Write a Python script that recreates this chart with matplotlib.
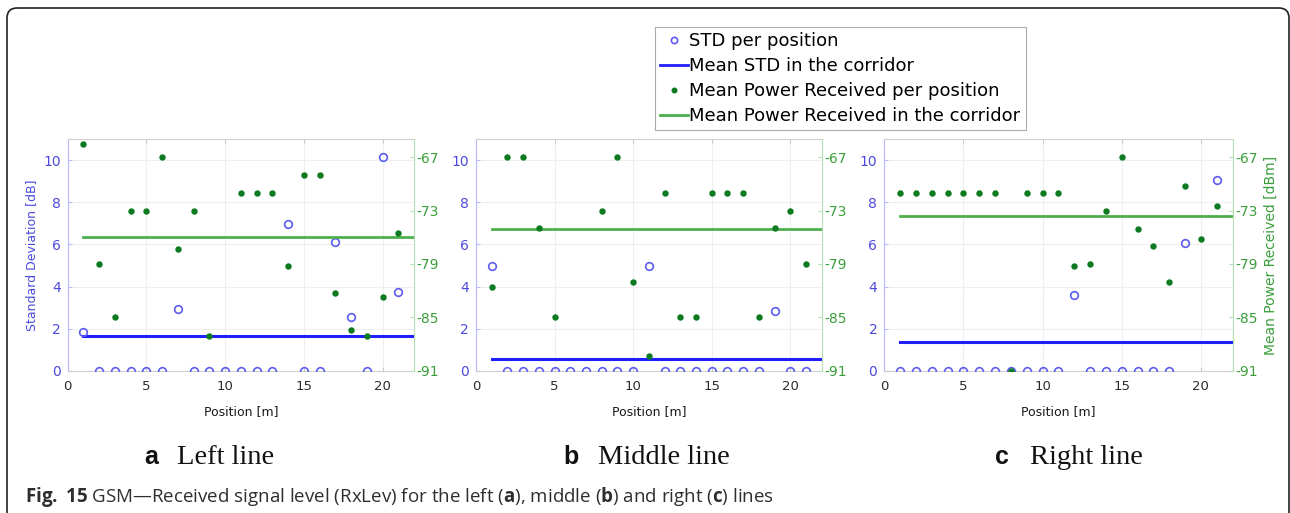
import numpy as np
import matplotlib
matplotlib.use("Agg")
import matplotlib.pyplot as plt
from matplotlib.lines import Line2D
from matplotlib.patches import FancyBboxPatch

plt.rcParams["font.family"] = ["DejaVu Sans"]
plt.rcParams["axes.unicode_minus"] = False
plt.rcParams["mathtext.fontset"] = "custom"
plt.rcParams["mathtext.rm"] = "Open Sans"
plt.rcParams["mathtext.bf"] = "Open Sans:bold"

# positions along the corridor
pos = np.arange(1, 22)
mean_x = [1, 22]
nan = np.nan

# (a) left line
std_a = [1.82, 0, 0, 0, 0, 0, 2.93, 0, 0, 0, 0, 0, 0, 6.98, 0, 0, 6.11, 2.53, 0, 10.16, 3.73]
pow_a = [-65.5, -79, -85, -73, -73, -67, -77.3, -73, -87.1, nan, -71, -71, -71, -79.2, -69, -69,
         -82.3, -86.4, -87.1, -82.7, -75.5]
mean_std_a = 1.66
mean_pow_a = -76.0

# (b) middle line
std_b = [4.97, 0, 0, 0, 0, 0, 0, 0, 0, 0, 4.97, 0, 0, 0, 0, 0, 0, 0, 2.83, 0, 0]
pow_b = [-81.6, -67, -67, -75, -85, nan, nan, -73, -67, -81.0, -89.4, -71, -85, -85, -71, -71,
         -71, -85, -75, -73, -79]
mean_std_b = 0.57
mean_pow_b = -75.1

# (c) right line
std_c = [0, 0, 0, 0, 0, 0, 0, 0, 0, 0, 0, 3.61, 0, 0, 0, 0, 0, 0, 6.06, nan, 9.08]
pow_c = [-71, -71, -71, -71, -71, -71, -71, -91, -71, -71, -71, -79.2, -79.0, -73, -67, -75.1,
         -77.0, -81.0, -70.3, -76.2, -72.5]
mean_std_c = 1.35
mean_pow_c = -73.6

panels = [
    ("a", "Left line", std_a, pow_a, mean_std_a, mean_pow_a),
    ("b", "Middle line", std_b, pow_b, mean_std_b, mean_pow_b),
    ("c", "Right line", std_c, pow_c, mean_std_c, mean_pow_c),
]

x_ticks = [0, 5, 10, 15, 20]
std_ticks = [0, 2, 4, 6, 8, 10]
pow_ticks = [-91, -85, -79, -73, -67]

BLUE_PT = "#5c5cf0"
BLUE_LN = "#1e1eff"
GREEN_PT = "#0c7a1f"
GREEN_LN = "#4caf4c"
BLUE_TXT = "#4b4bdc"
GREEN_TXT = "#3a9e3a"

W, H = 1290, 513
fig = plt.figure(figsize=(W / 100, H / 100), dpi=100)

# background frame (pixel coordinates)
bg = fig.add_axes([0, 0, 1, 1], zorder=-5)
bg.set_xlim(0, W); bg.set_ylim(0, H); bg.axis("off")
bg.add_patch(FancyBboxPatch((7, -30), 1282, H - 8 + 30, boxstyle="round,pad=0,rounding_size=10",
                            fc="white", ec="#222222", lw=1.2))

# axes boxes: left px, width px
ax_px = [(67.7, 346.3), (476, 345.7), (884.3, 348.2)]
ax_top, ax_bot = 139.3, 370.7
sub_px = [(144, 177), (563, 598), (995, 1030)]

for i, (let, name, std, pw, mstd, mpw) in enumerate(panels):
    l, w = ax_px[i]
    ax = fig.add_axes([l / W, (H - ax_bot) / H, w / W, (ax_bot - ax_top) / H])
    ax2 = ax.twinx()

    ax.plot(pos, std, "o", ms=5.5, mfc="none", mec=BLUE_PT, mew=1.2, zorder=3)
    ax.plot(mean_x, [mstd, mstd], color=BLUE_LN, lw=2.2, zorder=2)
    ax2.plot(pos, pw, "o", ms=3.6, color=GREEN_PT, mec=GREEN_PT, zorder=3)
    ax2.plot(mean_x, [mpw, mpw], color=GREEN_LN, lw=2.0, zorder=2)

    ax.set_xlim(0, 22)
    ax.set_ylim(0, 11)
    ax2.set_ylim(-91, -65)
    ax.set_xticks(x_ticks)
    ax.set_yticks(std_ticks)
    ax2.set_yticks(pow_ticks)
    ax.grid(True, color="#efefef", lw=0.8)
    ax.set_axisbelow(True)

    ax.tick_params(axis="x", direction="in", top=True, length=3, colors="#c8c8c8",
                   labelcolor="#2a2a2a", labelsize=9.5, pad=7)
    ax.tick_params(axis="y", direction="in", length=3, colors="#b8b8ff",
                   labelcolor=BLUE_TXT, labelsize=10, pad=5)
    ax2.tick_params(axis="y", direction="in", length=3, colors="#b0e0b0",
                    labelcolor=GREEN_TXT, labelsize=10, pad=2)

    for s in ["top", "bottom"]:
        ax.spines[s].set_color("#cfcfcf")
    ax.spines["left"].set_color("#b8b8ff")
    ax.spines["right"].set_visible(False)
    for s in ["top", "bottom", "left"]:
        ax2.spines[s].set_visible(False)
    ax2.spines["right"].set_color("#b0e0b0")

    ax.set_xlabel("Position [m]", fontsize=9, color="#1a1a1a", labelpad=8)
    if i == 0:
        ax.set_ylabel("Standard Deviation [dB]", fontsize=9, color=BLUE_TXT, labelpad=4)
    if i == 2:
        ax2.set_ylabel("Mean Power Received [dBm]", fontsize=10, color=GREEN_TXT, labelpad=4)

    # sub-figure label
    lx, nx = sub_px[i]
    fig.text(lx / W, (H - 463.5) / H, let, family=["Liberation Sans"], weight="bold",
             fontsize=18, va="baseline", color="#111111")
    fig.text(nx / W, (H - 463.5) / H, name, family=["Liberation Serif"], fontsize=20.5,
             va="baseline", color="#111111")

handles = [
    Line2D([], [], ls="none", marker="o", ms=4.5, mfc="none", mec=BLUE_PT, mew=1.2),
    Line2D([], [], color=BLUE_LN, lw=2.0),
    Line2D([], [], ls="none", marker="o", ms=3.3, color=GREEN_PT),
    Line2D([], [], color=GREEN_LN, lw=2.0),
]
labels = ["STD per position", "Mean STD in the corridor",
          "Mean Power Received per position", "Mean Power Received in the corridor"]
leg = fig.legend(handles, labels, loc="upper left", bbox_to_anchor=(655 / W, 1 - 27 / H),
                 fontsize=13, handlelength=1.5, handletextpad=0.1, labelspacing=0.38,
                 borderpad=0.3, borderaxespad=0, fancybox=False, framealpha=1)
leg.get_frame().set_edgecolor("#aaaaaa")
leg.get_frame().set_linewidth(0.8)

caption = (r"$\mathbf{Fig.}$ $\mathbf{15}$ GSM—Received signal level (RxLev) for the left ($\mathbf{a}$), "
           r"middle ($\mathbf{b}$) and right ($\mathbf{c}$) lines")
fig.text(25 / W, (H - 502) / H, caption, family=["Open Sans"], fontsize=13.5,
         va="baseline", color="#2e2e2e")

fig.savefig("out.png", dpi=100)
